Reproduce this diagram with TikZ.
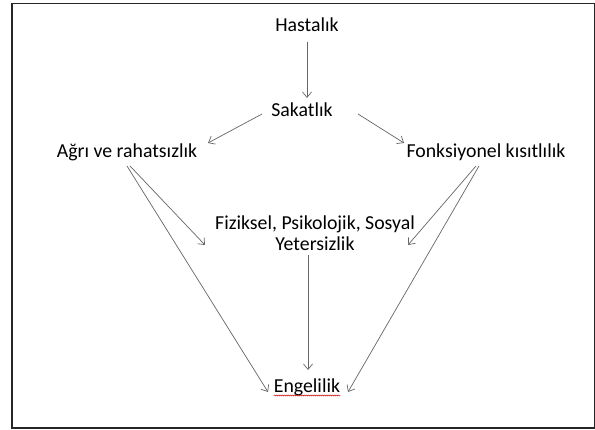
\documentclass[tikz,border=0pt]{standalone}
\usepackage{fontspec}
\setmainfont{Carlito}
\usetikzlibrary{arrows.meta,calc,decorations.pathmorphing}
\begin{document}
\begin{tikzpicture}[x=1pt,y=-1pt,
  lbl/.style={inner sep=0pt, font=\fontsize{19.8}{22}\selectfont, text height=14pt, text depth=4.5pt},
  lbl2/.style={inner sep=0pt, font=\fontsize{19.8}{21.5}\selectfont, align=center},
  arr/.style={draw=black!60, line width=0.7pt, -{Straight Barb[length=5.5pt,width=9pt]}}]
\fill[white] (0,0) rectangle (595,430);
\useasboundingbox (0,0) rectangle (595,430);
\draw[black!85, line width=1.6pt] (12,3.5) rectangle (594.5,428);
\node[lbl] (hast) at (307,27) {Hastalık};
\node[lbl] (sak) at (302,112) {Sakatlık};
\node[lbl] (agri) at (127,153) {Ağrı ve rahatsızlık};
\node[lbl] (fonk) at (486,153) {Fonksiyonel kısıtlılık};
\node[lbl2] (fiz) at (315,233) {Fiziksel, Psikolojik, Sosyal\\Yetersizlik};
\node[lbl] (eng) at (307,388) {Engelilik};
\draw[arr] ($(hast)+(0,15)$) -- ($(sak)+(5,-14)$);
\draw[arr] ($(sak)+(-40,2)$) -- ($(agri)+(81,-10)$);
\draw[arr] ($(sak)+(56,2)$) -- ($(fonk)+(-82,-10)$);
\draw[arr] ($(agri)+(3,13)$) -- ($(fiz)+(-110,12)$);
\draw[arr] ($(agri)+(0,13)$) -- ($(eng)+(-39,4)$);
\draw[arr] ($(fonk)+(-10,13)$) -- ($(fiz)+(93,12)$);
\draw[arr] ($(fonk)+(-7,13)$) -- ($(eng)+(41,4)$);
\draw[arr] ($(fiz)+(-7,22)$) -- ($(eng)+(1,-18)$);
\draw[red!80!black, line width=0.4pt, decorate, decoration={snake, amplitude=0.6pt, segment length=2pt}]
  ($(eng.south west)+(0,-2)$) -- ($(eng.south east)+(0,-2)$);
\end{tikzpicture}
\end{document}
